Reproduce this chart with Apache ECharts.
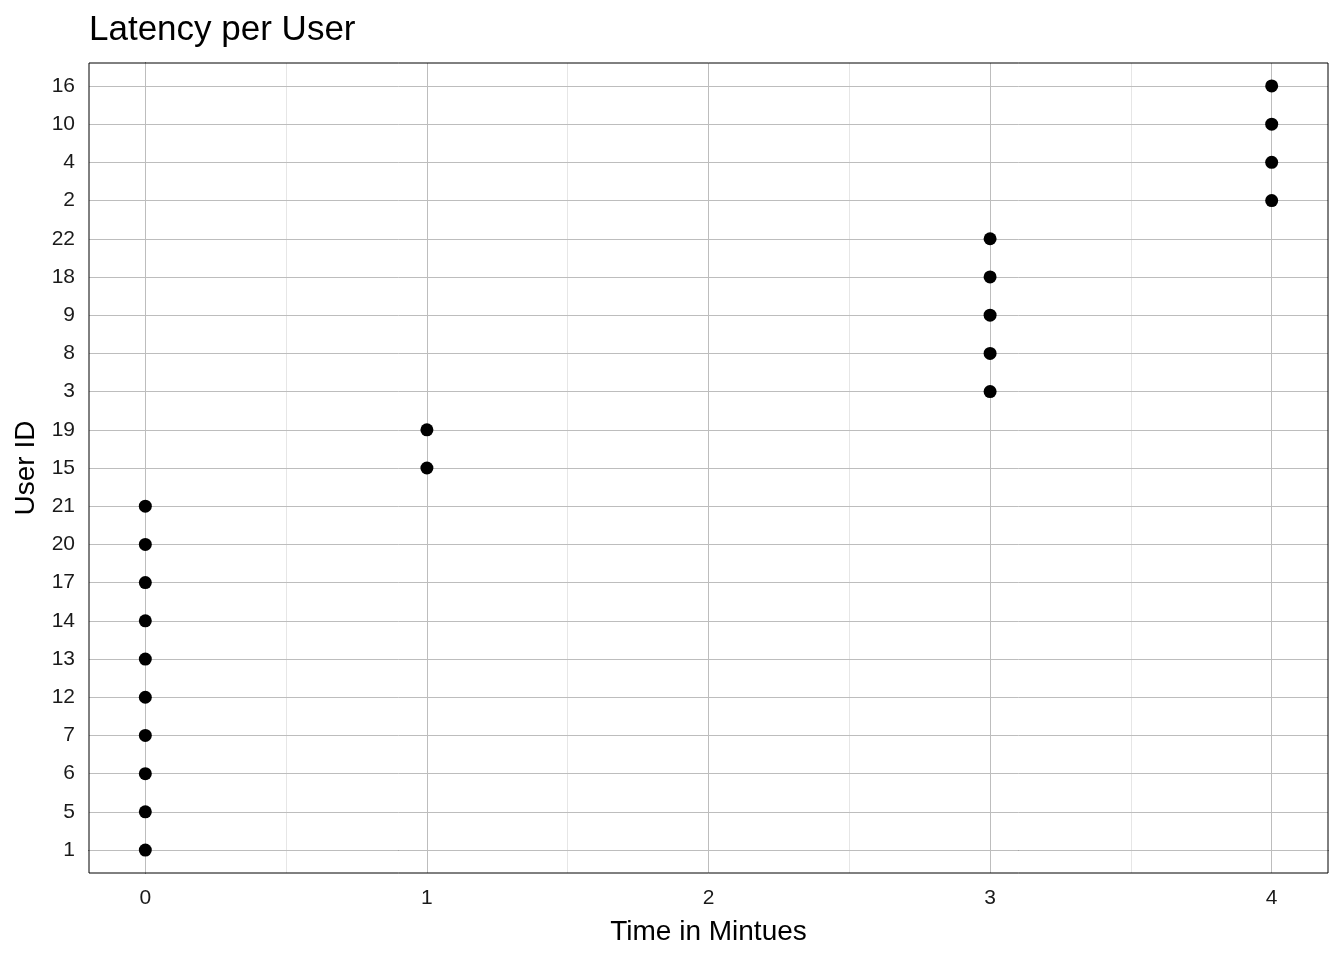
<!DOCTYPE html>
<html>
<head>
<meta charset="utf-8">
<script src="https://cdn.jsdelivr.net/npm/echarts@6/dist/echarts.min.js"></script>
<style>
html,body{margin:0;padding:0;background:#fff;}
#chart{width:1344px;height:960px;}
</style>
</head>
<body>
<div id="chart"></div>
<script>
// User IDs in display order (bottom to top)
const userIds = ['1','5','6','7','12','13','14','17','20','21','15','19','3','8','9','18','22','2','4','10','16'];
// Time in minutes for each user
const times = [0,0,0,0,0,0,0,0,0,0,1,1,3,3,3,3,3,4,4,4,4];
const xTicks = [0,1,2,3,4];
const xMinor = [0.5,1.5,2.5,3.5];

const yIdx = userIds.map((_, i) => i);
const points = userIds.map((u, i) => [times[i], i]);

const chart = echarts.init(document.getElementById('chart'));
const font = 'Liberation Sans, Arial, sans-serif';

const gridLines = [];
xMinor.forEach(v => gridLines.push({xAxis: v, lineStyle: {color: '#e6e6e6', width: 1, type: 'solid'}}));
xTicks.forEach(v => gridLines.push({xAxis: v, lineStyle: {color: '#bdbdbd', width: 1, type: 'solid'}}));
yIdx.forEach(v => gridLines.push({yAxis: v, lineStyle: {color: '#bdbdbd', width: 1, type: 'solid'}}));

chart.setOption({
  animation: false,
  backgroundColor: '#fff',
  title: {
    text: 'Latency per User',
    left: 84, top: 8,
    textStyle: {fontFamily: font, fontSize: 35, fontWeight: 'normal', color: '#000'}
  },
  grid: {left: 89, right: 16, top: 63, bottom: 87, show: true, borderColor: '#000', borderWidth: 1, z: 20},
  xAxis: {
    type: 'value', min: -0.2, max: 4.2,
    name: 'Time in Mintues', nameLocation: 'middle', nameGap: 45,
    nameTextStyle: {fontFamily: font, fontSize: 28, color: '#000'},
    axisLine: {show: true, lineStyle: {color: '#000', width: 1}},
    axisTick: {show: true, length: 5, lineStyle: {color: '#333'}, customValues: xTicks},
    axisLabel: {fontFamily: font, fontSize: 21, color: '#1a1a1a', margin: 15, customValues: xTicks},
    splitLine: {show: false}
  },
  yAxis: {
    type: 'value', min: -0.6, max: userIds.length - 0.4,
    name: 'User ID', nameLocation: 'middle', nameGap: 48, nameRotate: 90,
    nameTextStyle: {fontFamily: font, fontSize: 28, color: '#000'},
    axisLine: {show: true, lineStyle: {color: '#000', width: 1}},
    axisTick: {show: true, length: 5, lineStyle: {color: '#333'}, customValues: yIdx},
    axisLabel: {fontFamily: font, fontSize: 21, color: '#1a1a1a', margin: 14, customValues: yIdx,
      formatter: v => userIds[Math.round(v)]},
    splitLine: {show: false}
  },
  series: [
    {
      type: 'scatter', data: [], z: 1,
      markLine: {silent: true, z: 1, symbol: ['none','none'], label: {show: false}, data: gridLines, animation: false}
    },
    {
      type: 'scatter', data: points, z: 10,
      symbol: 'circle', symbolSize: 13,
      itemStyle: {color: '#000', opacity: 1}
    }
  ]
});
</script>
</body>
</html>
